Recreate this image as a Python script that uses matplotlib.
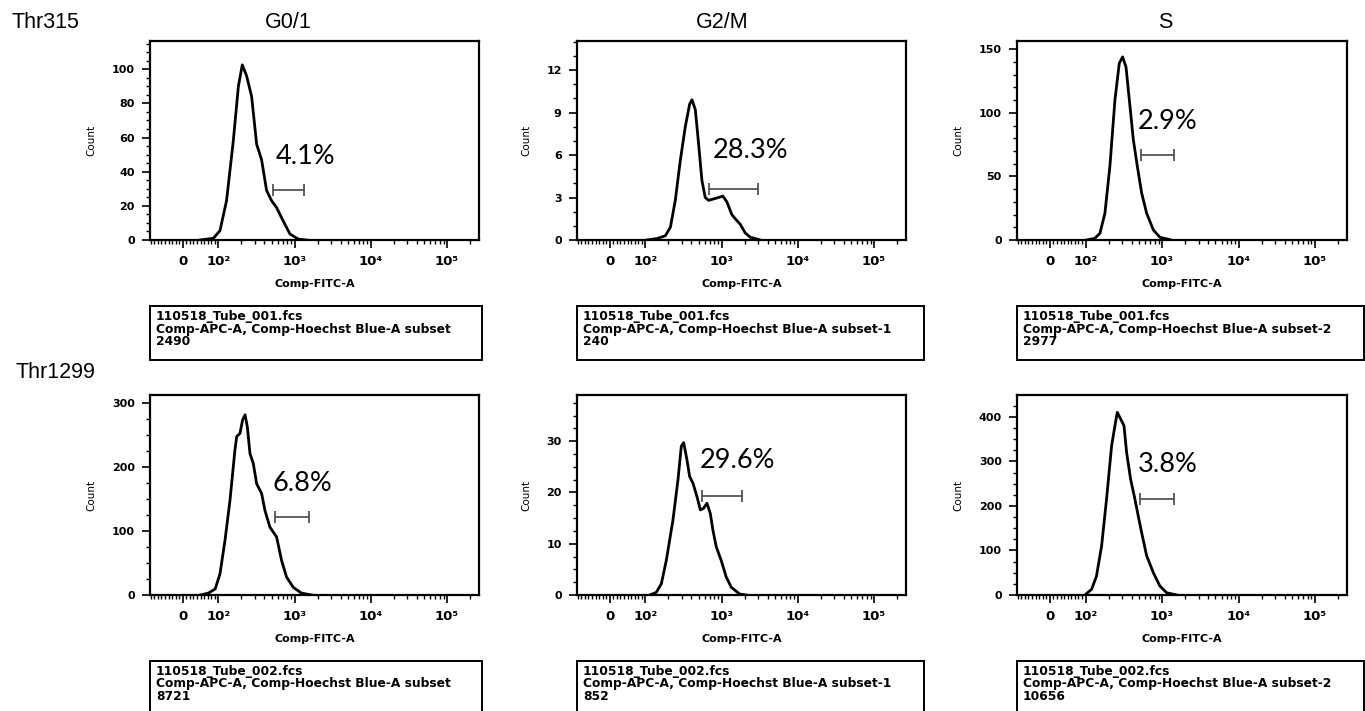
import numpy as np
import matplotlib
matplotlib.use('Agg')
import matplotlib.pyplot as plt
from matplotlib.patches import Rectangle
from matplotlib.ticker import FixedLocator, FixedFormatter

# ---------------- datos ----------------
filas = ['Thr315', 'Thr1299']
fases = ['G0/1', 'G2/M', 'S']

# Thr315
g01_t315_x = [49, 86, 105, 128, 157, 183, 206, 235, 273, 318, 369, 429, 499, 580, 711, 869, 1120, 1430]
g01_t315_y = [0, 1, 5.5, 23, 58, 90, 102.5, 96, 84, 56, 47, 29, 23, 19, 11, 3.5, 0.5, 0]
g2m_t315_x = [105, 142, 183, 213, 247, 287, 334, 381, 409, 452, 499, 552, 610, 675, 785, 912, 1040, 1170,
              1360, 1510, 1760, 2040, 2370, 3210]
g2m_t315_y = [0, 0.1, 0.3, 0.9, 2.8, 5.6, 8.0, 9.6, 9.9, 9.2, 6.8, 4.2, 3.0, 2.8, 2.9, 3.0, 3.1, 2.7,
              1.8, 1.5, 1.1, 0.5, 0.2, 0]
s_t315_x = [103, 132, 154, 179, 208, 242, 276, 305, 338, 381, 421, 475, 541, 629, 770, 938, 1270]
s_t315_y = [0, 1.3, 5.2, 21, 58, 110, 139, 144, 136, 105, 79, 58, 37, 21, 7.9, 2.1, 0.3]

# Thr1299
g01_t1299_x = [49, 72, 91, 105, 122, 142, 165, 174, 192, 208, 224, 240, 260, 287, 318, 369, 409, 475,
               580, 675, 785, 960, 1230, 1670]
g01_t1299_y = [0, 3, 9.4, 33, 85, 148, 227, 248, 253, 274, 282, 263, 221, 206, 174, 159, 132, 106,
               91, 54, 28, 12, 3, 0]
g2m_t1299_x = [114, 139, 162, 188, 230, 268, 296, 318, 351, 381, 421, 475, 526, 580, 642, 711, 770, 851,
               990, 1150, 1340, 1720, 2100]
g2m_t1299_y = [0, 0.5, 2.2, 6.7, 14.6, 22.5, 29, 29.7, 26.4, 23.1, 21.8, 19.2, 16.6, 16.9, 17.9, 15.9,
               12.6, 9.4, 6.7, 3.5, 1.5, 0.2, 0]
s_t1299_x = [98, 120, 139, 162, 188, 219, 242, 260, 282, 318, 344, 388, 442, 489, 541, 629, 770, 938,
             1150, 1560]
s_t1299_y = [0, 12.7, 42.7, 110, 215, 335, 380, 410, 398, 380, 320, 260, 215, 177, 140, 88, 50, 20, 5, 0]

curvas_x = [[g01_t315_x, g2m_t315_x, s_t315_x], [g01_t1299_x, g2m_t1299_x, s_t1299_x]]
curvas_y = [[g01_t315_y, g2m_t315_y, s_t315_y], [g01_t1299_y, g2m_t1299_y, s_t1299_y]]

# limites y ticks del eje Count
y_max = [[116.5, 14.05, 156.5], [313, 39, 449]]
y_mayores = [[[0, 20, 40, 60, 80, 100], [0, 3, 6, 9, 12], [0, 50, 100, 150]],
             [[0, 100, 200, 300], [0, 10, 20, 30], [0, 100, 200, 300, 400]]]
y_menor_paso = [[5, 1, 10], [25, 2.5, 25]]

# ticks del eje x
x_mayores = [0, 1e2, 1e3, 1e4, 1e5]
x_etiquetas = ['0', '10²', '10³', '10⁴', '10⁵']

# gate: inicio, fin, altura, porcentaje y posicion del texto
gate_ini = [[522, 675, 526], [552, 558, 515]]
gate_fin = [[1310, 2960, 1450], [1540, 1830, 1440]]
gate_alto = [[29.4, 3.6, 66.9], [122, 19.4, 216]]
porcentajes = [['4.1%', '28.3%', '2.9%'], ['6.8%', '29.6%', '3.8%']]
texto_x = [[566, 763, 475], [515, 515, 475]]
texto_y = [[48.6, 6.3, 93], [174, 26.3, 294]]

# cajas de informacion
archivos = ['110518_Tube_001.fcs', '110518_Tube_002.fcs']
subsets = ['Comp-APC-A, Comp-Hoechst Blue-A subset',
           'Comp-APC-A, Comp-Hoechst Blue-A subset-1',
           'Comp-APC-A, Comp-Hoechst Blue-A subset-2']
eventos = [['2490', '240', '2977'], ['8721', '852', '10656']]

# ---------------- escala tipo biexponencial ----------------
D0 = 0.467  # decadas entre 0 y 10^2


def adelante(x):
    x = np.asarray(x, dtype=float)
    return np.where(x >= 100, D0 + np.log10(np.maximum(x, 100) / 100), x / 100 * D0)


def atras(u):
    u = np.asarray(u, dtype=float)
    return np.where(u >= D0, 100 * 10 ** (np.maximum(u, D0) - D0), u / D0 * 100)


x_menores = [v for v in range(-90, 100, 10) if v != 0]
for dec in [100, 1000, 10000, 100000]:
    x_menores += [dec * k for k in range(2, 10) if dec * k < 262144]

W, H = 1365, 711
fig = plt.figure(figsize=(W / 100, H / 100), dpi=100)

col_izq = [150, 577, 1017]
col_ancho = [329, 329, 330]
fila_top = [41, 395]
fila_alto = [199, 200]
caja_top = [306, 661]
caja_der = [482, 924, 1364]

for i in range(2):
    for j in range(3):
        ax = fig.add_axes([col_izq[j] / W, 1 - (fila_top[i] + fila_alto[i]) / H,
                           col_ancho[j] / W, fila_alto[i] / H])
        ax.set_xscale('function', functions=(adelante, atras))
        ax.plot(curvas_x[i][j], curvas_y[i][j], color='black', lw=2)
        ax.set_xlim(-92, 262144)
        ax.set_ylim(0, y_max[i][j])

        # gate y porcentaje
        ax.plot([gate_ini[i][j], gate_fin[i][j]], [gate_alto[i][j]] * 2, color='#555555', lw=1.3,
                marker='|', markersize=9, markeredgewidth=1.3)
        ax.text(texto_x[i][j], texto_y[i][j], porcentajes[i][j], fontsize=19.5, family='Lato',
                ha='left', va='center')

        # ejes
        ax.xaxis.set_major_locator(FixedLocator(x_mayores))
        ax.xaxis.set_major_formatter(FixedFormatter(x_etiquetas))
        ax.xaxis.set_minor_locator(FixedLocator(x_menores))
        ax.yaxis.set_major_locator(FixedLocator(y_mayores[i][j]))
        ax.yaxis.set_minor_locator(FixedLocator(np.arange(0, y_max[i][j], y_menor_paso[i][j])))
        ax.tick_params(axis='both', which='major', direction='out', length=6, width=1.2,
                       labelsize=8, pad=5)
        ax.tick_params(axis='x', which='major', labelsize=9.5, pad=5)
        ax.tick_params(axis='both', which='minor', direction='out', length=3, width=1)
        for lab in ax.get_xticklabels() + ax.get_yticklabels():
            lab.set_fontweight('bold')
        for s in ax.spines.values():
            s.set_linewidth(1.6)

        ax.set_xlabel('Comp-FITC-A', fontsize=8, fontweight='bold', labelpad=8)
        ax.set_ylabel('Count', fontsize=7.5, family=['Liberation Sans Narrow', 'DejaVu Sans'],
                      labelpad=11)

        # caja de informacion
        x0 = col_izq[j] / W
        y0 = 1 - caja_top[i] / H
        fig.add_artist(Rectangle((x0, y0 - 54 / H), (caja_der[j] - col_izq[j]) / W, 54 / H,
                                 transform=fig.transFigure, fill=False, lw=1.4, ec='black'))
        lineas = [archivos[i], subsets[j], eventos[i][j]]
        for k, t in enumerate(lineas):
            fig.text(x0 + 6 / W, y0 - (10.5 + 12.5 * k) / H, t, fontsize=8.8, fontweight='bold',
                     ha='left', va='center')

# titulos
for j, (t, xc) in enumerate(zip(fases, [288, 722, 1165])):
    fig.text(xc / W, 1 - 22 / H, t, fontsize=15.5, ha='center', va='center', family='Liberation Sans')
fig.text(12 / W, 1 - 22 / H, filas[0], fontsize=15.5, ha='left', va='center', family='Liberation Sans')
fig.text(15 / W, 1 - 373 / H, filas[1], fontsize=15.5, ha='left', va='center', family='Liberation Sans')

fig.savefig('out.png', dpi=100)
